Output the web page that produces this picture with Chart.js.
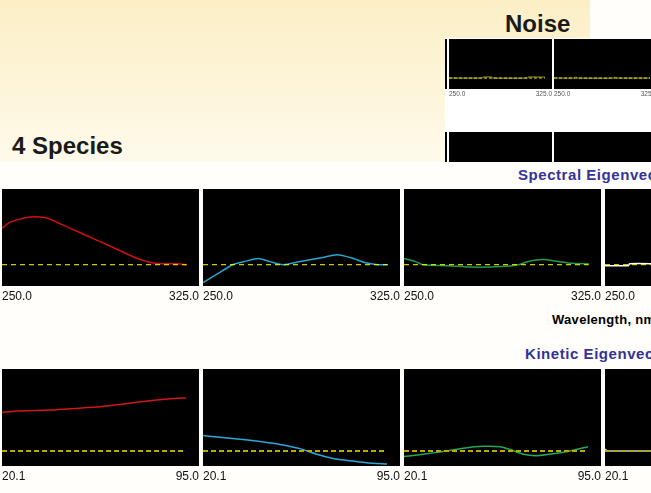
<!DOCTYPE html>
<html>
<head>
<meta charset="utf-8">
<title>4 Species</title>
<script src="https://cdn.jsdelivr.net/npm/chart.js@4.4.0/dist/chart.umd.min.js"></script>
<style>
    html, body { margin: 0; padding: 0; }
    body { width: 651px; height: 493px; overflow: hidden; position: relative; background: #fffefa; font-family: "Liberation Sans", Arial, sans-serif; }
    .abs { position: absolute; }
    #crema { left: 0; top: 0; width: 590px; height: 162px; background: linear-gradient(#fcefc6, #fefaeb); }
    #ruidoFondo { left: 445px; top: 38px; width: 206px; height: 124px; background: #ffffff; }
    .negro { background: #000; }
    .titulo { font-weight: bold; font-size: 24px; line-height: 24px; color: #1a1a1a; white-space: nowrap; }
    .seccion { font-weight: bold; font-size: 15px; line-height: 15px; letter-spacing: 0.55px; color: #333399; white-space: nowrap; }
    #eje { left: 552px; top: 313px; font-weight: bold; font-size: 13px; line-height: 13px; letter-spacing: 0.3px; color: #000; white-space: nowrap; }
</style>
</head>
<body>
<div id="crema" class="abs"></div>
<div id="ruidoFondo" class="abs"></div>
<div class="abs titulo" style="left:505px; top:12px;">Noise</div>
<div class="abs titulo" style="left:12px; top:134px;">4 Species</div>

<!-- Paneles de ruido -->
<div class="abs negro" style="left:445px; top:39px; width:2px; height:50px;"></div>
<canvas id="ruido1" class="abs" width="103" height="59" style="left:449px; top:39px;"></canvas>
<canvas id="ruido2" class="abs" width="103" height="59" style="left:554px; top:39px;"></canvas>
<div class="abs negro" style="left:445px; top:132px; width:2px; height:30px;"></div>
<div class="abs negro" style="left:449px; top:132px; width:103px; height:30px;"></div>
<div class="abs negro" style="left:554px; top:132px; width:97px; height:30px;"></div>

<div class="abs seccion" style="left:518px; top:167px;">Spectral Eigenvectors</div>
<canvas id="esp1" class="abs" width="197" height="115" style="left:2px; top:189px;"></canvas>
<canvas id="esp2" class="abs" width="197" height="115" style="left:203px; top:189px;"></canvas>
<canvas id="esp3" class="abs" width="197" height="115" style="left:404px; top:189px;"></canvas>
<canvas id="esp4" class="abs" width="197" height="115" style="left:605px; top:189px;"></canvas>
<div id="eje" class="abs">Wavelength, nm</div>

<div class="abs seccion" style="left:525px; top:346px;">Kinetic Eigenvectors</div>
<canvas id="cin1" class="abs" width="197" height="115" style="left:2px; top:369px;"></canvas>
<canvas id="cin2" class="abs" width="197" height="115" style="left:203px; top:369px;"></canvas>
<canvas id="cin3" class="abs" width="197" height="115" style="left:404px; top:369px;"></canvas>
<canvas id="cin4" class="abs" width="197" height="115" style="left:605px; top:369px;"></canvas>

<script>
// ===== Datos =====

// Vectores propios espectrales (x: longitud de onda en nm)
const espX1 = [250, 253, 260, 267.5, 270.5, 282, 294, 305, 310, 314.5, 321.5, 325];
const espY1 = [0.77, 0.89, 1.00, 1.00, 0.94, 0.67, 0.39, 0.13, 0.05, 0.02, 0.02, 0.0];
const espX2 = [250, 256, 262, 267, 272.5, 277.5, 282.5, 289.5, 297.5, 304.5, 310.5, 316, 321, 325];
const espY2 = [-0.38, -0.19, 0.0, 0.07, 0.13, 0.06, 0.0, 0.07, 0.14, 0.21, 0.14, 0.04, 0.0, 0.0];
const espX3 = [250, 255, 257.5, 268, 277.5, 289.5, 296.5, 300.5, 306.5, 312.5, 318, 325];
const espY3 = [0.13, 0.06, 0.0, -0.02, -0.05, -0.04, 0.0, 0.07, 0.11, 0.07, 0.03, 0.02];
const espX4 = [250, 259.5, 260, 270, 280, 290, 300, 310, 325];
const espY4 = [-0.02, -0.02, 0.02, 0.02, 0.01, 0.0, 0.01, 0.0, 0.0];

// Vectores propios cineticos (x: tiempo)
const cinX1 = [20.1, 26.6, 39.6, 47.8, 60.0, 68.1, 80.3, 88.5, 95.0];
const cinY1 = [0.82, 0.85, 0.87, 0.90, 0.94, 0.99, 1.07, 1.11, 1.13];
const cinX2 = [20.1, 27.0, 35.2, 43.3, 51.4, 59.6, 66.4, 73.1, 79.9, 86.7, 95.0];
const cinY2 = [0.33, 0.29, 0.25, 0.20, 0.14, 0.05, -0.07, -0.16, -0.21, -0.25, -0.28];
const cinX3 = [20.1, 27.9, 36.1, 44.2, 52.4, 59.2, 63.3, 68.7, 74.1, 80.9, 87.7, 95.0];
const cinY3 = [-0.12, -0.07, -0.01, 0.06, 0.10, 0.09, 0.03, -0.07, -0.10, -0.06, 0.0, 0.09];
const cinX4 = [20.1, 21.0, 30, 40, 60, 80, 95.0];
const cinY4 = [0.04, 0.0, 0.0, 0.0, 0.0, 0.0, 0.0];

// Ruido (mismo eje que el espectral)
const ruidoX1 = [250, 276, 276.5, 283.5, 284, 311.5, 312, 325];
const ruidoY1 = [0, 0, 0.04, 0.04, 0, 0, 0.04, 0.04];
const ruidoX2 = [250, 266, 267, 268, 297, 298, 299, 325];
const ruidoY2 = [0, 0, 0.05, 0, 0, 0.05, 0, 0];

// Etiquetas de los extremos del eje x
const etiquetasEsp = ['250.0', '325.0'];
const etiquetasCin = ['20.1', '95.0'];

const FUENTE = '"Liberation Sans", Arial, sans-serif';

window.onload = function(){

    /**
     * Plugin fondoNegro
     * Pinta de negro el area de la grafica, como en el programa original
     */
    const fondoNegro = {
        id: 'fondoNegro',
        beforeDraw(chart) {
            const a = chart.chartArea;
            chart.ctx.save();
            chart.ctx.fillStyle = '#000';
            chart.ctx.fillRect(a.left, a.top, a.width, a.height);
            chart.ctx.restore();
        }
    };

    // Configuracion de cada tipo de panel
    const tipos = {
        esp:   { x: [250, 330], y: [-0.45, 1.6], etiquetas: etiquetasEsp, guion: '#ffff00', grosorGuion: 1, patron: [5, 4],
                 grosor: 1.5, tam: 12, colorTexto: '#111', altoEje: 18, sep: 3 },
        cin:   { x: [20.1, 100.3], y: [-0.32, 1.745], etiquetas: etiquetasCin, guion: '#b8aa00', grosorGuion: 2, patron: [5, 3],
                 grosor: 1.5, tam: 12, colorTexto: '#111', altoEje: 18, sep: 3 },
        ruido: { x: [250, 330.5], y: [-0.45, 1.6], etiquetas: etiquetasEsp, guion: '#e0e000', grosorGuion: 1, patron: [3, 2],
                 grosor: 1, tam: 6.5, colorTexto: '#555', altoEje: 9, sep: 1 }
    };

    /**
     * Funcion unirPuntos
     * Junta los arrays x e y en el formato {x, y} que usa Chart.js
     */
    function unirPuntos(xs, ys){
        let puntos = [];
        for (let i = 0; i < xs.length; i++) {
            puntos.push({x: xs[i], y: ys[i]});
        }
        return puntos;
    }

    /**
     * Funcion crearPanel
     * Dibuja un panel: la curva del vector propio y la linea de cero discontinua
     */
    function crearPanel(id, xs, ys, color, tipo){
        const t = tipos[tipo];
        const cero = [{x: xs[0], y: 0}, {x: xs[xs.length - 1], y: 0}];

        return new Chart(document.getElementById(id), {
            type: 'scatter',
            data: {
                datasets: [
                    { data: cero, showLine: true, borderColor: t.guion, borderWidth: t.grosorGuion,
                      borderDash: t.patron, pointRadius: 0 },
                    { data: unirPuntos(xs, ys), showLine: true, borderColor: color, borderWidth: t.grosor,
                      pointRadius: 0, tension: 0.2 }
                ]
            },
            options: {
                responsive: false,
                animation: false,
                events: [],
                layout: { padding: 0 },
                plugins: { legend: { display: false }, tooltip: { enabled: false } },
                scales: {
                    x: {
                        type: 'linear', min: t.x[0], max: t.x[1],
                        grid: { display: false, drawTicks: true, tickLength: t.sep },
                        border: { display: false },
                        afterBuildTicks: eje => { eje.ticks = [{value: t.x[0]}, {value: t.x[1]}]; },
                        afterFit: eje => { eje.height = t.altoEje; },
                        ticks: {
                            align: 'inner', autoSkip: false, maxRotation: 0, padding: 0,
                            color: t.colorTexto, font: { family: FUENTE, size: t.tam },
                            callback: (v, i) => t.etiquetas[i]
                        }
                    },
                    y: { display: false, min: t.y[0], max: t.y[1] }
                }
            },
            plugins: [fondoNegro]
        });
    }

    // Paneles de ruido
    crearPanel('ruido1', ruidoX1, ruidoY1, '#9a9a40', 'ruido');
    crearPanel('ruido2', ruidoX2, ruidoY2, '#9a9a40', 'ruido');

    // Vectores propios espectrales
    crearPanel('esp1', espX1, espY1, '#d01010', 'esp');
    crearPanel('esp2', espX2, espY2, '#22a8d0', 'esp');
    crearPanel('esp3', espX3, espY3, '#1f9e4a', 'esp');
    crearPanel('esp4', espX4, espY4, '#ffffff', 'esp');

    // Vectores propios cineticos
    crearPanel('cin1', cinX1, cinY1, '#d01818', 'cin');
    crearPanel('cin2', cinX2, cinY2, '#2aa8d8', 'cin');
    crearPanel('cin3', cinX3, cinY3, '#22aa55', 'cin');
    crearPanel('cin4', cinX4, cinY4, '#c8c8c8', 'cin');
}
</script>
</body>
</html>
